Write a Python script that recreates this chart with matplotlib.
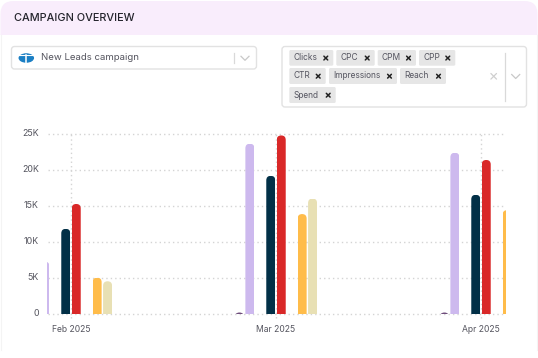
import matplotlib
matplotlib.use("Agg")
import matplotlib.pyplot as plt
from matplotlib.patches import FancyBboxPatch, Ellipse, Rectangle
from matplotlib.transforms import ScaledTranslation

plt.rcParams['font.family'] = ['Inter', 'DejaVu Sans']

W, H = 538, 358
months = ['Feb 2025', 'Mar 2025', 'Apr 2025']
y_ticks = [0, 5000, 10000, 15000, 20000, 25000]
y_labels = ['0', '5K', '10K', '15K', '20K', '25K']
tags = [['Clicks', 'CPC', 'CPM', 'CPP'], ['CTR', 'Impressions', 'Reach'], ['Spend']]
title = 'CAMPAIGN OVERVIEW'
campaign = 'New Leads campaign'

clicks = [0, 250, 250]
cpc = [7300, 23650, 22400]
cpm = [100, 100, 100]
cpp = [11850, 19200, 16570]
ctr = [15300, 24800, 21400]
impressions = [0, 0, 0]
reach = [5080, 13900, 14440]
spend = [4580, 16050, 0]
series = [clicks, cpc, cpm, cpp, ctr, impressions, reach, spend]
colors = ['#6f4e7c', '#CDB9EE', '#bdbdbd', '#023047', '#D92828', '#8ecae6', '#FFBC4A', '#E8E0B4']

fig = plt.figure(figsize=(W / 100, H / 100), dpi=100, facecolor='white')

# page furniture, in pixel coordinates
bg = fig.add_axes([0, 0, 1, 1], zorder=0)
bg.set_xlim(0, W)
bg.set_ylim(H, 0)
bg.axis('off')


def rbox(x0, y0, x1, y1, r, fc, ec='none', lw=0, z=1):
    p = FancyBboxPatch((x0, y0), x1 - x0, y1 - y0, boxstyle=f'round,pad=0,rounding_size={r}',
                       fc=fc, ec=ec, lw=lw, zorder=z)
    bg.add_patch(p)


def cross(cx, cy, s, c, lw):
    bg.plot([cx - s, cx + s], [cy - s, cy + s], color=c, lw=lw, solid_capstyle='round', zorder=4)
    bg.plot([cx - s, cx + s], [cy + s, cy - s], color=c, lw=lw, solid_capstyle='round', zorder=4)


def chevron(cx, cy, c='#c8c8c8'):
    bg.plot([cx - 4, cx, cx + 4], [cy - 2, cy + 2, cy - 2], color=c, lw=0.9, zorder=4)


# card and header
rbox(0.5, 1, 537.5, 60, 13, '#F9EDFC')
bg.add_patch(Rectangle((0, 35), W, H - 35, fc='white', ec='none', zorder=1.5))
bg.plot([0.5, 0.5], [35, 350], color='#f4f4f4', lw=0.8, zorder=2)
bg.plot([537.2, 537.2], [35, 350], color='#f4f4f4', lw=0.8, zorder=2)
bg.text(13.5, 18.0, title, fontsize=7.85, fontweight='medium', color='#24242c', va='center', zorder=4)

# campaign select
rbox(11.5, 46.5, 256.5, 69, 3, 'white', '#e2e2e2', 1, 2)
bg.add_patch(Ellipse((26.3, 58), 15.5, 9.5, fc='#1b7fc4', ec='none', zorder=3))
bg.plot([19, 34], [55.2, 55.2], color='white', lw=0.8, zorder=4)
bg.plot([26.3, 26.3], [55, 63], color='white', lw=1.1, zorder=4)
bg.text(41, 58, campaign, fontsize=6.9, color='#55555f', va='center', zorder=4)
bg.plot([234.3, 234.3], [53, 63], color='#d9d9d9', lw=0.9, zorder=3)
chevron(245, 58.3)

# metric select
rbox(282, 46.5, 526.5, 107, 3, 'white', '#e2e2e2', 1, 2)
rows = [(50, 65.7, [(289.3, 333.3), (336.3, 374.7), (377.7, 416), (419, 455.3)]),
        (68, 84, [(289.3, 325.7), (329, 397), (400, 446)]),
        (87, 103, [(289.3, 335.7)])]
for (y0, y1, spans), names in zip(rows, tags):
    for (x0, x1), name in zip(spans, names):
        rbox(x0, y0, x1, y1, 1.5, '#E6E6E6', z=3)
        bg.text(x0 + 4.2, (y0 + y1) / 2, name, fontsize=6.0, color='#555560', va='center', zorder=4)
        cross(x1 - 7.5, (y0 + y1) / 2 + 0.2, 1.9, '#222222', 1.1)
cross(493.7, 76.3, 2.8, '#cfcfcf', 0.9)
bg.plot([504.7, 504.7], [53, 101], color='#d9d9d9', lw=0.9, zorder=3)
chevron(515.7, 76.5)

# chart, placed so the month ticks fall at x = 71, 276, 481 px
PX_X, PX_Y = 205.0, 180.3 / 25000
L, R, T, B = 46.5, 505.5, 134.0, 314.3
ax = fig.add_axes([L / W, 1 - B / H, (R - L) / W, (B - T) / H], zorder=2)
ax.patch.set_alpha(0)
ax.set_xlim((L - 71) / PX_X, (R - 71) / PX_X)
ax.set_ylim(0, 25000)
for s in ax.spines.values():
    s.set_visible(False)

idx = list(range(len(months)))
bar_w = 9.0 / PX_X
step = 10.45 / PX_X
rx, ry = 4.5 / PX_X, 4.5 / PX_Y

for v in y_ticks:
    ax.plot([(48 - 71) / PX_X, (504 - 71) / PX_X], [v, v], color='#d4d4d4', lw=1.0,
            ls=(0, (1, 2.2)), clip_on=False, zorder=1)
for i in idx:
    ax.plot([i, i], [-5000 * 3.5 / 36, 25000], color='#d4d4d4', lw=1.0,
            ls=(0, (1, 2.2)), clip_on=False, zorder=1)

for k, (vals, col) in enumerate(zip(series, colors)):
    xs = [i + (k - 3.5) * step for i in idx]
    bars = ax.bar(xs, vals, width=bar_w, color=col, linewidth=0, zorder=3)
    for b in bars:
        if b.get_height() <= 0:
            continue
        shape = FancyBboxPatch((b.get_x(), -2 * ry), b.get_width(), b.get_height() + 2 * ry,
                               boxstyle=f'round,pad=0,rounding_size={rx}',
                               mutation_aspect=ry / rx, transform=ax.transData)
        b.set_clip_path(shape)

ax.set_xticks(idx, months)
ax.set_yticks(y_ticks, y_labels)
ax.tick_params(axis='both', length=0, labelsize=6.4, labelcolor='#55555f')
ax.tick_params(axis='x', pad=8.0, labelsize=6.2)
ax.tick_params(axis='y', pad=5.5)
lift = ScaledTranslation(0, 1.8 / 100, fig.dpi_scale_trans)
for lbl in ax.get_yticklabels():
    lbl.set_transform(lbl.get_transform() + lift)

fig.savefig('out.png', dpi=100)
